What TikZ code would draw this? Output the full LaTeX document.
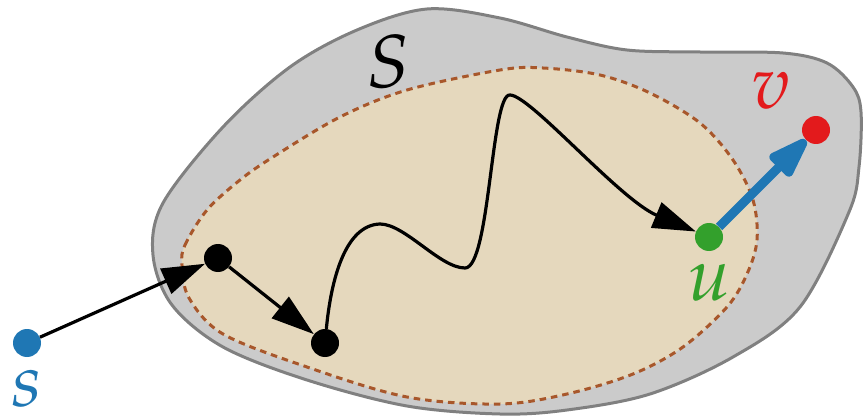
\documentclass[tikz,border=0pt]{standalone}
\usepackage{mathpazo}
\usetikzlibrary{arrows.meta}
\definecolor{outerfill}{HTML}{CBCBCB}
\definecolor{outerdraw}{HTML}{808080}
\definecolor{innerfill}{HTML}{E5D8BD}
\definecolor{innerdraw}{HTML}{A8572B}
\definecolor{cblue}{HTML}{1F77B4}
\definecolor{cgreen}{HTML}{33A02C}
\definecolor{cred}{HTML}{E31A1C}
\tikzset{
  dot/.style={circle, minimum size=28pt, inner sep=0pt},
  lbl/.style={inner sep=0pt, font=\fontsize{75}{80}\selectfont},
  blackarrow/.style={line width=3.2pt, -{Triangle[length=43pt,width=27pt]}},
  bluearrow/.style={line width=9pt, cblue, -{Triangle[length=50pt,width=31pt,round]}, line join=round},
}
\begin{document}
\begin{tikzpicture}[x=1pt,y=-1pt]
\useasboundingbox (0,0) rectangle (863,417);
% outer region S
\draw[line width=3pt, outerdraw, fill=outerfill]
  plot[smooth cycle, tension=0.55] coordinates {
  (153,255) (163,203) (223,127) (290,67) (357,30) (427,9) (500,18) (567,37)
  (627,50) (700,52) (783,53) (827,63) (853,87) (861,112) (859,167) (849,212)
  (800,307) (733,357) (650,394) (567,410) (500,414) (407,406) (307,380)
  (223,347) (172,305)};
% inner dashed region
\draw[line width=3pt, innerdraw, fill=innerfill, dash pattern=on 6.5pt off 5pt]
  plot[smooth cycle, tension=0.55] coordinates {
  (182,265) (185,245) (207,210) (240,180) (273,157) (340,117) (407,90) (500,70) (543,68)
  (600,75) (650,93) (700,123) (733,160) (753,200) (757,240) (747,274) (727,307)
  (683,347) (633,374) (567,394) (500,404) (407,397) (307,367) (223,334) (189,298)};
% nodes
\node[dot, fill=cblue] (s) at (27,343) {};
\node[dot, fill=black] (a) at (218,258) {};
\node[dot, fill=black] (b) at (325,343) {};
\node[dot, fill=cgreen] (u) at (709,237) {};
\node[dot, fill=cred] (v) at (816,130) {};
% labels
\node[lbl, text=cblue] (sl) at (27,389) {$s$};
\node[lbl, text=black] (Sl) at (388,62) {$S$};
\node[lbl, text=cgreen] (ul) at (709,283) {$u$};
\node[lbl, text=cred] (vl) at (771,91) {$v$};
% connectors
\draw[blackarrow] (s) -- (a);
\draw[blackarrow] (a) -- (b);
\coordinate (p1) at (380,224);
\coordinate (p2) at (465,268);
\coordinate (p3) at (510,95);
\draw[blackarrow] (b) .. controls (331,280) and (345,225) .. (p1)
  .. controls (405,224) and (440,268) .. (p2)
  .. controls (490,268) and (491,93) .. (p3)
  .. controls (530,95) and (620,200) .. (u);
\draw[bluearrow] (u) -- (v);
\end{tikzpicture}
\end{document}
